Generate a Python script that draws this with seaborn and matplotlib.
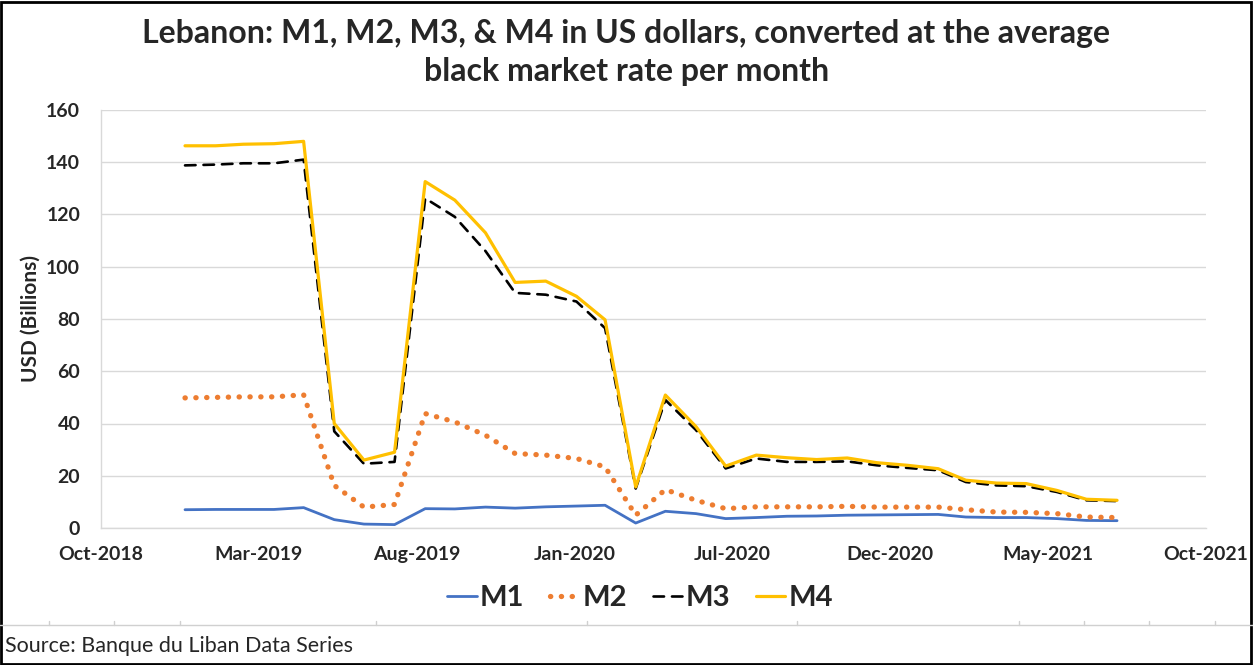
import pandas as pd
import numpy as np
import matplotlib
matplotlib.use('Agg')
import matplotlib.pyplot as plt
import matplotlib.dates as mdates
from matplotlib.lines import Line2D
from matplotlib.patches import Rectangle
import seaborn as sns

# monthly data, Jan-2019 .. Aug-2021 (USD billions)
months = pd.date_range('2019-01-01', periods=32, freq='MS')
m1 = [7.0, 7.1, 7.1, 7.1, 7.8, 3.2, 1.5, 1.3, 7.4, 7.3, 8.0, 7.6, 8.1, 8.4, 8.7, 1.9,
      6.4, 5.5, 3.6, 4.0, 4.5, 4.6, 4.9, 5.0, 5.1, 5.2, 4.2, 4.0, 4.0, 3.6, 2.9, 2.8]
m2 = [49.8, 50.0, 50.2, 50.2, 51.0, 16.3, 8.0, 9.0, 43.8, 40.6, 35.5, 28.5, 27.9, 26.6, 23.4, 4.9,
      14.7, 10.6, 7.4, 8.1, 8.1, 8.1, 8.3, 8.0, 8.0, 8.0, 7.0, 6.1, 6.0, 5.5, 4.2, 4.0]
m3 = [138.8, 139.1, 139.6, 139.6, 141.0, 37.0, 24.6, 25.3, 126.2, 119.1, 106.0, 90.0, 89.3, 86.7, 76.5, 15.1,
      49.0, 37.5, 22.8, 26.6, 25.3, 25.3, 25.5, 24.0, 23.0, 22.1, 17.6, 16.3, 16.0, 13.8, 10.6, 10.3]
m4 = [146.3, 146.3, 146.9, 147.1, 148.0, 40.0, 26.0, 29.0, 132.6, 125.5, 113.0, 94.0, 94.5, 88.7, 79.7, 15.7,
      50.9, 38.8, 23.7, 27.9, 26.9, 26.2, 26.8, 25.0, 24.0, 22.7, 18.3, 17.2, 17.0, 14.4, 11.0, 10.6]
series_names = ['M1', 'M2', 'M3', 'M4']

df = pd.DataFrame({'date': months, 'M1': m1, 'M2': m2, 'M3': m3, 'M4': m4})

sns.set_style('white')
plt.rcParams['font.family'] = ['Lato', 'DejaVu Sans']

fig = plt.figure(figsize=(12.53, 6.65), dpi=100)
ax = fig.add_axes([101/1253, 1 - 528/665, (1206 - 101)/1253, (528 - 110)/665])

styles = {
    'M1': dict(color='#4472C4', lw=2.0, ls='-'),
    'M2': dict(color='#ED7D31', lw=3.8, ls=(0, (0.05, 2.0))),
    'M3': dict(color='black', lw=1.9, ls=(0, (4, 3))),
    'M4': dict(color='#FFC000', lw=2.3, ls='-'),
}
for name in series_names:
    st = styles[name]
    sns.lineplot(data=df, x='date', y=name, ax=ax, color=st['color'], linewidth=st['lw'],
                 linestyle=st['ls'], legend=False)
    ax.lines[-1].set_dash_capstyle('round')

# axes
x_lo = pd.Timestamp('2018-10-08')
x_hi = x_lo + pd.Timedelta(days=1118)
ax.set_xlim(x_lo, x_hi)
ax.set_ylim(0, 160)
ticks = [x_lo + pd.Timedelta(days=1118 * k / 7) for k in range(8)]
ax.set_xticks(ticks)
ax.xaxis.set_major_formatter(mdates.DateFormatter('%b-%Y'))
ax.set_yticks(range(0, 161, 20))
ax.grid(axis='y', color='#d9d9d9', lw=1.0)
ax.set_axisbelow(True)
for s in ['top', 'right']:
    ax.spines[s].set_visible(False)
for s in ['left', 'bottom']:
    ax.spines[s].set_color('#d9d9d9')
    ax.spines[s].set_linewidth(1.0)
ax.tick_params(axis='both', length=0, labelsize=14)
ax.tick_params(axis='x', pad=13)
ax.tick_params(axis='y', pad=15)
for lab in ax.get_xticklabels() + ax.get_yticklabels():
    lab.set_fontweight('bold')
ax.set_xlabel('')
ax.set_ylabel('')

fig.text(31/1253, 1 - 318/665, 'USD (Billions)', rotation=90, ha='center', va='center',
         fontsize=15, fontweight='bold')

fig.text(0.5, 1 - 34/665, 'Lebanon: M1, M2, M3, & M4 in US dollars, converted at the average',
         ha='center', va='center', fontsize=23, fontweight='bold')
fig.text(0.5, 1 - 72/665, 'black market rate per month',
         ha='center', va='center', fontsize=23, fontweight='bold')

# legend
handles = [Line2D([], [], color=styles[n]['color'], lw=styles[n]['lw'], ls=styles[n]['ls'],
                  dash_capstyle='round') for n in series_names]
fig.legend(handles, series_names, loc='center', bbox_to_anchor=(640/1253, 1 - 598/665), ncol=4,
           frameon=False, prop={'size': 21, 'weight': 'bold'}, handlelength=1.0,
           handletextpad=0.1, columnspacing=0.9)

# source row with cell borders
sep_y = 1 - 625/665
fig.add_artist(Line2D([0, 1], [sep_y, sep_y], transform=fig.transFigure, color='#d0d0d0', lw=1))
for px in [49, 114, 180, 376, 587, 797, 1019, 1084, 1149, 1215]:
    fig.add_artist(Line2D([px/1253, px/1253], [sep_y, sep_y + 4/665], transform=fig.transFigure,
                          color='#d0d0d0', lw=1))
fig.text(5/1253, 1 - 646/665, 'Source: Banque du Liban Data Series', ha='left', va='center',
         fontsize=15.5)

fig.add_artist(Rectangle((1/1253, 1/665), 1 - 3/1253, 1 - 3/665, transform=fig.transFigure,
                         fill=False, edgecolor='black', lw=2))

fig.savefig('out.png', dpi=100)
